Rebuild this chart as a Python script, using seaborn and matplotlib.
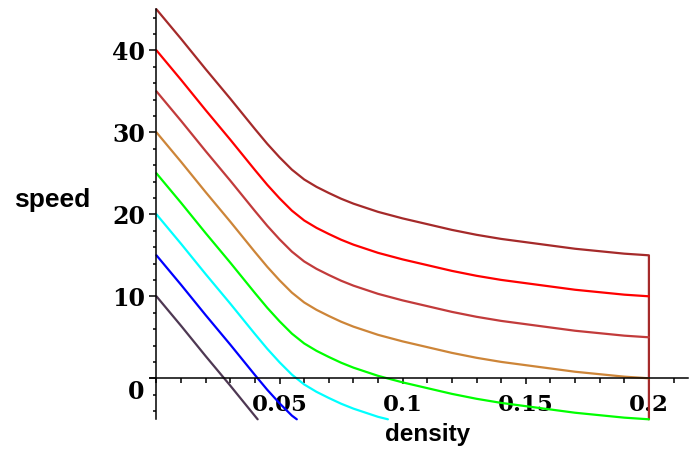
import pandas as pd
import matplotlib.pyplot as plt
import seaborn as sns
from matplotlib.ticker import MultipleLocator, FixedLocator

# Curve data (density -> speed), one list per curve
density_full = [0, 0.01, 0.02, 0.03, 0.04, 0.045, 0.05, 0.055, 0.06, 0.065, 0.07, 0.075,
                0.08, 0.09, 0.10, 0.11, 0.12, 0.13, 0.14, 0.15, 0.16, 0.17, 0.18, 0.19, 0.20]

# top curve also carries the vertical drop at density 0.2
density_45 = density_full + [0.20]
speed_45 = [45, 41.4, 37.7, 34.1, 30.4, 28.6, 26.95, 25.45, 24.25, 23.35, 22.6, 21.9,
            21.3, 20.3, 19.5, 18.8, 18.1, 17.5, 17.0, 16.6, 16.2, 15.8, 15.5, 15.2, 15.0, -5.0]
speed_40 = [40, 36.4, 32.7, 29.1, 25.4, 23.6, 21.95, 20.45, 19.25, 18.35, 17.6, 16.9,
            16.3, 15.3, 14.5, 13.8, 13.1, 12.5, 12.0, 11.6, 11.2, 10.8, 10.5, 10.2, 10.0]
speed_35 = [35, 31.4, 27.7, 24.1, 20.4, 18.6, 16.95, 15.45, 14.25, 13.35, 12.6, 11.9,
            11.3, 10.3, 9.5, 8.8, 8.1, 7.5, 7.0, 6.6, 6.2, 5.8, 5.5, 5.2, 5.0]
speed_30 = [30, 26.4, 22.7, 19.1, 15.4, 13.6, 11.95, 10.45, 9.25, 8.35, 7.6, 6.9,
            6.3, 5.3, 4.5, 3.8, 3.1, 2.5, 2.0, 1.6, 1.2, 0.8, 0.5, 0.2, 0.0]
speed_25 = [25, 21.4, 17.7, 14.1, 10.4, 8.6, 6.95, 5.45, 4.25, 3.35, 2.6, 1.9,
            1.3, 0.3, -0.5, -1.2, -1.9, -2.5, -3.0, -3.4, -3.8, -4.2, -4.5, -4.8, -5.0]
density_20 = [0, 0.01, 0.02, 0.03, 0.04, 0.045, 0.05, 0.055, 0.06, 0.065, 0.07, 0.075,
              0.08, 0.09, 0.094]
speed_20 = [20, 16.4, 12.7, 9.1, 5.4, 3.6, 1.95, 0.45, -0.75, -1.65, -2.4, -3.1,
            -3.7, -4.7, -5.0]
density_15 = [0, 0.01, 0.02, 0.03, 0.04, 0.045, 0.05, 0.055, 0.057]
speed_15 = [15, 11.4, 7.7, 4.1, 0.4, -1.4, -3.05, -4.55, -5.0]
density_10 = [0, 0.01, 0.02, 0.03, 0.04, 0.0411]
speed_10 = [10, 6.4, 2.7, -0.9, -4.6, -5.0]

curve_names = ["v45", "v40", "v35", "v30", "v25", "v20", "v15", "v10"]
curve_colors = ["#A52A2A", "#FF0000", "#C23B3B", "#CD8538",
                "#00FF00", "#00FFFF", "#0000FF", "#4E3853"]

# build long-form table for seaborn
series = [
    (density_45, speed_45), (density_full, speed_40), (density_full, speed_35),
    (density_full, speed_30), (density_full, speed_25), (density_20, speed_20),
    (density_15, speed_15), (density_10, speed_10),
]
frames = []
for name, (xs, ys) in zip(curve_names, series):
    frames.append(pd.DataFrame({"density": xs, "speed": ys, "curve": name}))
df = pd.concat(frames, ignore_index=True)

sns.set_style("white")
plt.rcParams["font.family"] = ["DejaVu Serif"]
plt.rcParams["text.color"] = "black"
plt.rcParams["xtick.color"] = "black"
plt.rcParams["ytick.color"] = "black"

fig = plt.figure(figsize=(6.91, 4.51), dpi=100)
ax = fig.add_axes([0.2175, 0.0703, 0.7786, 0.909])

sns.lineplot(data=df, x="density", y="speed", hue="curve", hue_order=curve_names,
             palette=dict(zip(curve_names, curve_colors)), sort=False,
             estimator=None, legend=False, linewidth=1.6, ax=ax)
for line in ax.lines:
    line.set_clip_on(False)

ax.set_xlim(-0.0025, 0.216)
ax.set_ylim(-5, 45)

# Maple-style axes crossing at the origin
for side in ["top", "right"]:
    ax.spines[side].set_visible(False)
for side in ["left", "bottom"]:
    ax.spines[side].set_position(("data", 0))
    ax.spines[side].set_linewidth(1.1)
    ax.spines[side].set_color("black")

ax.xaxis.set_major_locator(FixedLocator([0.05, 0.1, 0.15, 0.2]))
ax.xaxis.set_minor_locator(MultipleLocator(0.01))
ax.set_xticklabels(["0.05", "0.1", "0.15", "0.2"])
ax.yaxis.set_major_locator(FixedLocator([0, 10, 20, 30, 40]))
ax.yaxis.set_minor_locator(MultipleLocator(2))
ax.set_yticklabels(["", "10", "20", "30", "40"])

ax.tick_params(which="both", bottom=True, left=True, top=False, right=False)
ax.tick_params(axis="x", which="major", direction="out", length=4.5, width=1.1,
               pad=7, labelsize=16.5)
ax.tick_params(axis="x", which="minor", direction="out", length=3.5, width=1.1)
ax.tick_params(axis="y", which="major", direction="out", length=5, width=1.1,
               pad=3, labelsize=17)
ax.tick_params(axis="y", which="minor", direction="out", length=2.5, width=1.1)
for lab in ax.get_xticklabels() + ax.get_yticklabels():
    lab.set_fontweight("bold")

# the zero label sits below the x axis
ax.annotate("0", xy=(0, 0), xycoords="data", xytext=(-9, -10), textcoords="offset points",
            ha="right", va="center", fontsize=17, fontweight="bold")

ax.set_xlabel("")
ax.set_ylabel("")
fig.text(14 / 691, 1 - 207 / 451, "speed", ha="left", va="baseline",
         fontsize=19, fontweight="bold", family="Liberation Sans")
fig.text(428 / 691, 1 - 441 / 451, "density", ha="center", va="baseline",
         fontsize=17.5, fontweight="bold", family="Liberation Sans")

fig.savefig("out.png", dpi=100, facecolor="white")
